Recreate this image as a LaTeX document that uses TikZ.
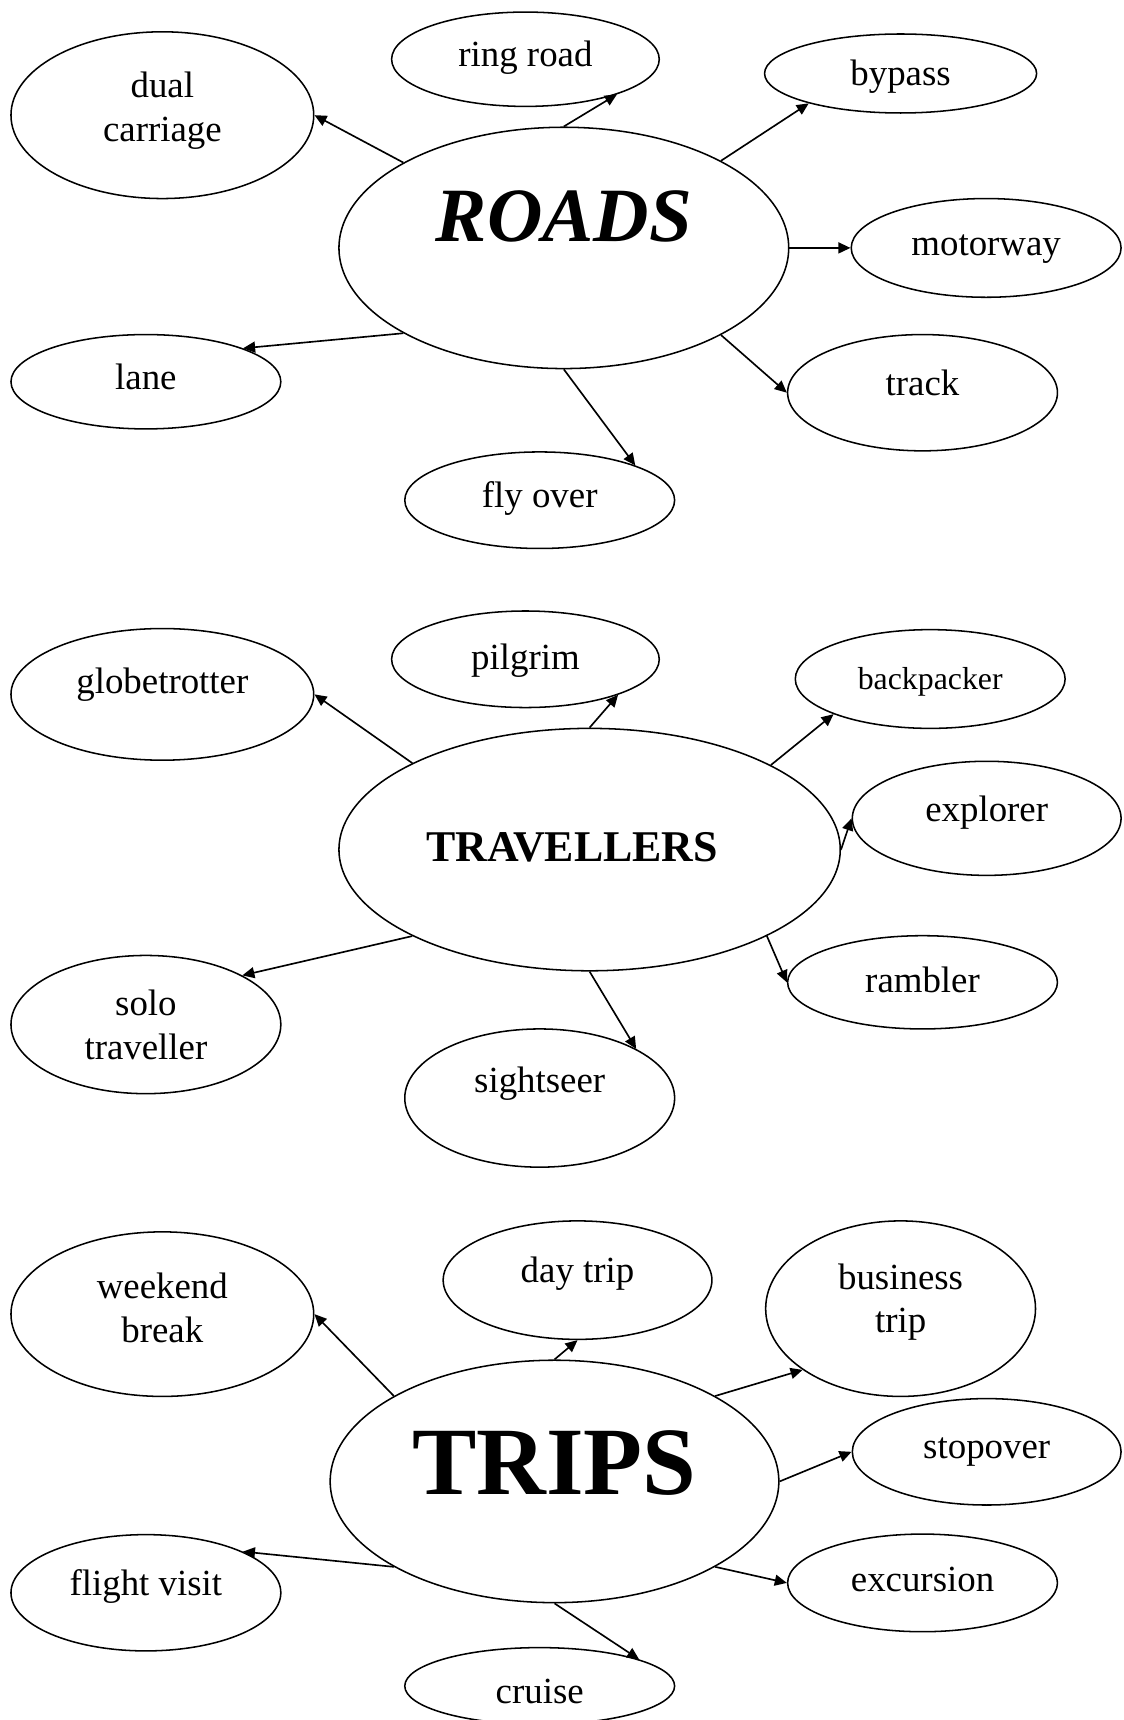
\documentclass[tikz,border=0pt]{standalone}
\usepackage{fontspec}
\setmainfont{Liberation Serif}
\usepackage{tikz}
\usetikzlibrary{shapes.geometric, arrows.meta}

\begin{document}
\begin{tikzpicture}[
			x=0.5pt, y=0.5pt,
			bubble/.style={ellipse, draw, line width=0.7pt, inner sep=0pt},
			word/.style={font=\fontsize{16.8}{20}\selectfont, align=center, inner sep=0pt},
			arrow/.style={-{Triangle[length=5.5pt, width=5pt]}, line width=0.75pt}
			]
			\useasboundingbox (0,0) rectangle (1024,-1568);
			
			% Roads
			\node (roads) [bubble, minimum width=205pt, minimum height=110pt,
				label={[word, font=\fontsize{35}{40}\selectfont\bfseries\itshape, yshift=14.5pt]center:ROADS}] at (514,-226) {};
			\node (dual) [bubble, minimum width=138pt, minimum height=76pt,
				label={[word, yshift=2pt]center:{dual\\carriage}}] at (148,-105) {};
			\node (ring) [bubble, minimum width=122pt, minimum height=43pt,
				label={[word, yshift=0.5pt]center:ring road}] at (479,-54) {};
			\node (bypass) [bubble, minimum width=124pt, minimum height=36pt,
				label={[word, yshift=-1.5pt]center:bypass}] at (821,-67) {};
			\node (motorway) [bubble, minimum width=123pt, minimum height=45pt,
				label={[word, yshift=-0.5pt]center:motorway}] at (899,-226) {};
			\node (track) [bubble, minimum width=123pt, minimum height=53pt,
				label={[word, yshift=4.5pt]center:track}] at (841,-358) {};
			\node (flyover) [bubble, minimum width=123pt, minimum height=44pt,
				label={[word, yshift=1pt]center:fly over}] at (492,-456) {};
			\node (lane) [bubble, minimum width=123pt, minimum height=43pt,
				label={[word, yshift=2pt]center:lane}] at (133,-348) {};
			
			\draw [arrow] (roads.152) -- (dual.east);
			\draw [arrow] (roads.90) -- (ring.-21);
			\draw [arrow] (roads.29) -- (bypass.198);
			\draw [arrow] (roads.east) -- (motorway.west);
			\draw [arrow] (roads.-29) -- (track.west);
			\draw [arrow] (roads.-90) -- (flyover.20);
			\draw [arrow] (roads.208) -- (lane.19);
			
			% Travellers
			\node (trav) [bubble, minimum width=228.5pt, minimum height=110.5pt,
				label={[word, font=\fontsize{20}{24}\selectfont\bfseries, xshift=-8pt, yshift=1pt]center:TRAVELLERS}] at (537.5,-774.5) {};
			\node (globe) [bubble, minimum width=138pt, minimum height=60pt,
				label={[word, yshift=4.5pt]center:globetrotter}] at (148,-633) {};
			\node (pilgrim) [bubble, minimum width=122pt, minimum height=44pt,
				label={[word, yshift=-0.5pt]center:pilgrim}] at (479,-601) {};
			\node (backpacker) [bubble, minimum width=123pt, minimum height=45pt,
				label={[word, font=\fontsize{14.5}{17}\selectfont, yshift=-1.5pt]center:backpacker}] at (848,-619) {};
			\node (explorer) [bubble, minimum width=122.5pt, minimum height=52pt,
				label={[word, yshift=2.5pt]center:explorer}] at (899.5,-746) {};
			\node (rambler) [bubble, minimum width=123pt, minimum height=42.5pt,
				label={[word, yshift=1pt]center:rambler}] at (841,-895.5) {};
			\node (sightseer) [bubble, minimum width=123pt, minimum height=63pt,
				label={[word, yshift=6.5pt]center:sightseer}] at (492,-1001) {};
			\node (solo) [bubble, minimum width=123pt, minimum height=63pt,
				label={[word]center:{solo\\traveller}}] at (133,-934) {};
			
			\draw [arrow] (trav.154) -- (globe.east);
			\draw [arrow] (trav.90) -- (pilgrim.-21);
			\draw [arrow] (trav.25.5) -- (backpacker.200);
			\draw [arrow] (trav.east) -- (explorer.west);
			\draw [arrow] (trav.-26) -- (rambler.west);
			\draw [arrow] (trav.-90) -- (sightseer.27);
			\draw [arrow] (trav.206) -- (solo.27);
			
			% Trips
			\node (trips) [bubble, minimum width=204.5pt, minimum height=110.5pt,
				label={[word, font=\fontsize{44}{50}\selectfont\bfseries, yshift=8.5pt]center:TRIPS}] at (505.5,-1350.5) {};
			\node (weekend) [bubble, minimum width=138pt, minimum height=75pt,
				label={[word, yshift=3pt]center:{weekend\\break}}] at (148,-1198) {};
			\node (daytrip) [bubble, minimum width=122.5pt, minimum height=54pt,
				label={[word, yshift=3pt]center:day trip}] at (526.5,-1167) {};
			\node (business) [bubble, minimum width=123pt, minimum height=80pt,
				label={[word, yshift=3pt]center:{business\\trip}}] at (821,-1193) {};
			\node (stopover) [bubble, minimum width=122.5pt, minimum height=48.5pt,
				label={[word]center:stopover}] at (899.5,-1323.5) {};
			\node (excursion) [bubble, minimum width=123pt, minimum height=44.5pt,
				label={[word, yshift=1.5pt]center:excursion}] at (841,-1443) {};
			\node (cruise) [bubble, minimum width=123pt, minimum height=35pt,
				label={[word, yshift=-2.5pt]center:cruise}] at (492,-1537) {};
			\node (flight) [bubble, minimum width=123pt, minimum height=53pt,
				label={[word, yshift=3pt]center:flight visit}] at (133,-1452) {};
			
			\draw [arrow] (trips.152) -- (weekend.east);
			\draw [arrow] (trips.north) -- (daytrip.south);
			\draw [arrow] (trips.28) -- (business.212);
			\draw [arrow] (trips.east) -- (stopover.west);
			\draw [arrow] (trips.-28) -- (excursion.west);
			\draw [arrow] (trips.south) -- (cruise.15);
			\draw [arrow] (trips.208) -- (flight.23);
			
		\end{tikzpicture}
\end{document}
